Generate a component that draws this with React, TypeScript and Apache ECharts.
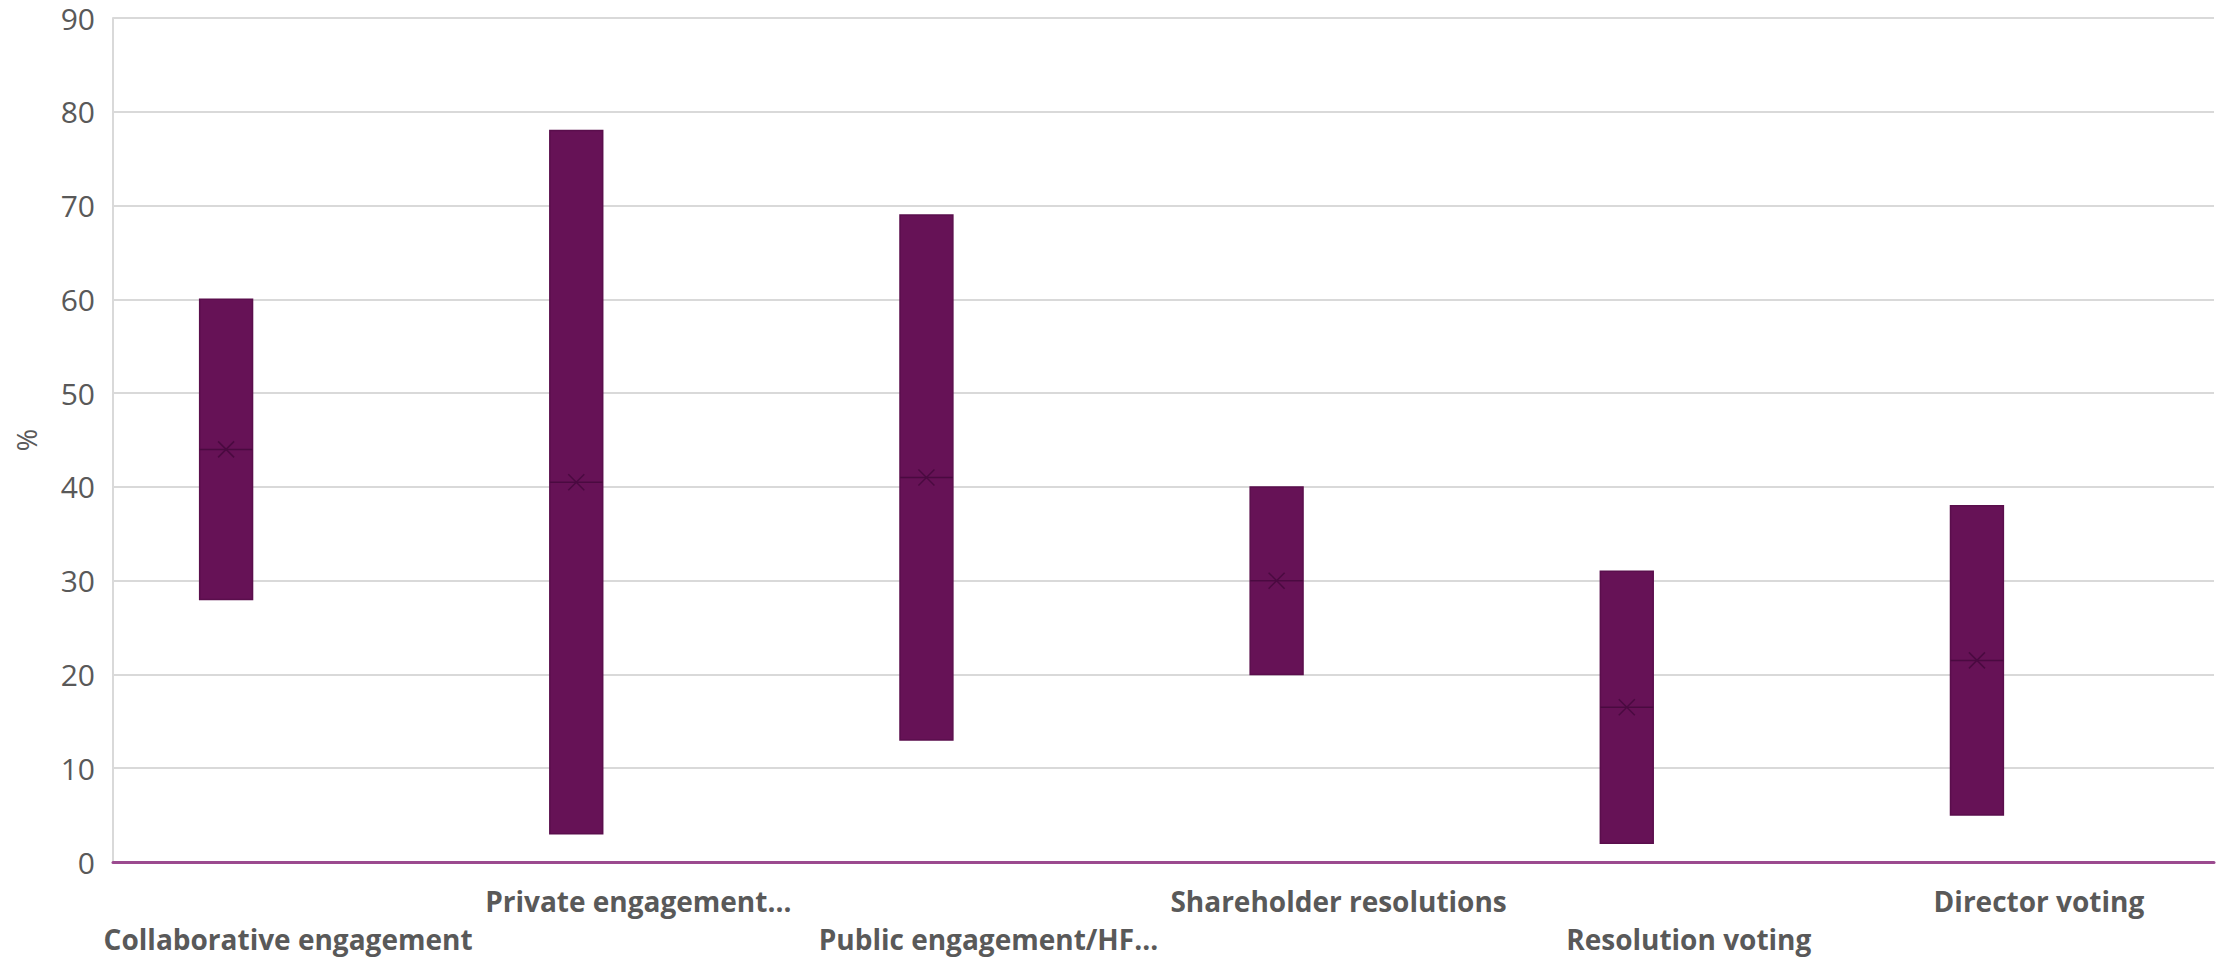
import React, { useEffect, useRef } from "react";
import * as echarts from "echarts";

const categories = [
  "Collaborative engagement",
  "Private engagement...",
  "Public engagement/HF...",
  "Shareholder resolutions",
  "Resolution voting",
  "Director voting",
];
const lowValues = [28, 3, 13, 20, 2, 5];
const highValues = [60, 78, 69, 40, 31, 38];
const medianValues = [44, 40.5, 41, 30, 16.5, 21.5];
const meanValues = [44, 40.5, 41, 30, 16.5, 21.5];
const yTicks = { min: 0, max: 90, interval: 10 };

export default function App() {
  const ref = useRef<HTMLDivElement>(null);
  useEffect(() => {
    if (!ref.current) return;
    const chart = echarts.init(ref.current, undefined, { renderer: "svg" });
    const data = categories.map((_, i) => [i, lowValues[i], highValues[i], medianValues[i], meanValues[i]]);
    const renderItem = (params: any, api: any) => {
      const idx = api.value(0);
      const band = api.size([1, 0])[0];
      const off = -0.177 * band;
      const w = 0.151 * band;
      const pLow = api.coord([idx, api.value(1)]);
      const pHigh = api.coord([idx, api.value(2)]);
      const pMed = api.coord([idx, api.value(3)]);
      const pMean = api.coord([idx, api.value(4)]);
      const cx = pLow[0] + off;
      const m = 8;
      const dark = "#4a0a40";
      return {
        type: "group",
        children: [
          {
            type: "rect",
            shape: { x: cx - w / 2, y: pHigh[1], width: w, height: pLow[1] - pHigh[1] },
            style: { fill: "#661256", stroke: "#5a0e4c", lineWidth: 1.5 },
          },
          {
            type: "line",
            shape: { x1: cx - w / 2, y1: pMed[1], x2: cx + w / 2, y2: pMed[1] },
            style: { stroke: dark, lineWidth: 1.5 },
          },
          {
            type: "line",
            shape: { x1: cx - m, y1: pMean[1] - m, x2: cx + m, y2: pMean[1] + m },
            style: { stroke: dark, lineWidth: 1.5 },
          },
          {
            type: "line",
            shape: { x1: cx - m, y1: pMean[1] + m, x2: cx + m, y2: pMean[1] - m },
            style: { stroke: dark, lineWidth: 1.5 },
          },
        ],
      };
    };
    chart.setOption({
      animation: false,
      grid: { left: 113, right: 13, top: 18, bottom: 97, containLabel: false, outerBoundsMode: "none" },
      xAxis: {
        type: "category",
        data: categories,
        boundaryGap: true,
        axisLine: { show: true, lineStyle: { color: "#9b4a8f", width: 3 } },
        axisTick: { show: false },
        axisLabel: {
          interval: 0,
          margin: 20,
          color: "#595959",
          fontFamily: "Open Sans",
          fontWeight: "bold",
          fontSize: 28,
          lineHeight: 38,
          formatter: (v: string) => {
            const i = categories.indexOf(v);
            return i % 2 === 0 ? "\n" + v : v;
          },
        },
        splitLine: { show: false },
      },
      yAxis: {
        type: "value",
        min: yTicks.min,
        max: yTicks.max,
        interval: yTicks.interval,
        name: "%",
        nameLocation: "middle",
        nameGap: 73,
        nameRotate: 90,
        nameTextStyle: { color: "#595959", fontFamily: "Open Sans", fontSize: 27 },
        axisLine: { show: true, lineStyle: { color: "#d9d9d9", width: 2 } },
        axisTick: { show: false },
        axisLabel: { color: "#595959", fontFamily: "Open Sans", fontSize: 30, lineHeight: 30, margin: 18 },
        splitLine: { lineStyle: { color: "#d9d9d9", width: 2 } },
      },
      series: [
        {
          type: "custom",
          renderItem,
          data,
          encode: { x: 0, y: [1, 2, 3, 4] },
          z: 3,
        },
      ],
    });
    return () => chart.dispose();
  }, []);
  return (
    <div
      ref={ref}
      style={{ position: "absolute", left: 0, top: 0, width: 2227, height: 959 }}
    />
  );
}
